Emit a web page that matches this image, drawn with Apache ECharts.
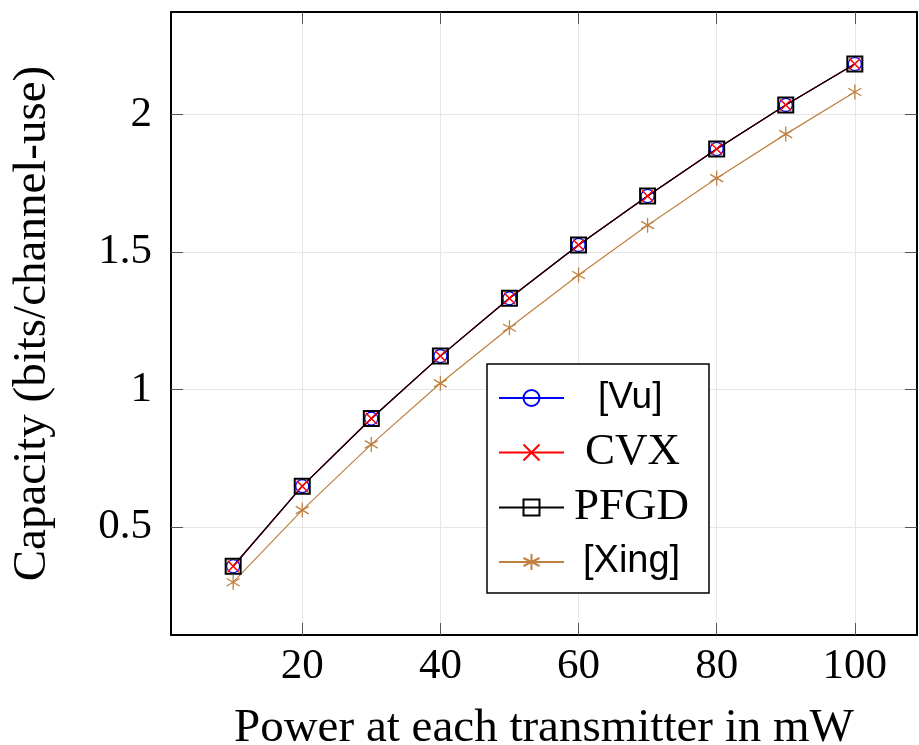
<!DOCTYPE html>
<html>
<head>
<meta charset="utf-8">
<script src="https://cdn.jsdelivr.net/npm/echarts@6/dist/echarts.min.js"></script>
<style>html,body{margin:0;padding:0;background:#fff}#c{width:919px;height:745px}</style>
</head>
<body>
<div id="c"></div>
<script>
const power = [10, 20, 30, 40, 50, 60, 70, 80, 90, 100];
const vu    = [0.357, 0.648, 0.894, 1.121, 1.331, 1.525, 1.703, 1.874, 2.034, 2.183];
const cvx   = [0.357, 0.648, 0.894, 1.121, 1.331, 1.525, 1.703, 1.874, 2.034, 2.183];
const pfgd  = [0.357, 0.648, 0.894, 1.121, 1.331, 1.525, 1.703, 1.874, 2.034, 2.183];
const xing  = [0.299, 0.561, 0.800, 1.022, 1.224, 1.416, 1.597, 1.768, 1.928, 2.081];
const xTicks = [20, 40, 60, 80, 100];
const yTicks = [0.5, 1, 1.5, 2];
const seriesNames = ['[Vu]', 'CVX', 'PFGD', '[Xing]'];

const pts = arr => power.map((p, i) => [p, arr[i]]);
const serif = 'Liberation Serif';
const sans = 'Liberation Sans';

const chart = echarts.init(document.getElementById('c'), null, {renderer: 'canvas'});
const tickStyle = {show: true, inside: true, length: 12, lineStyle: {color: '#555', width: 1}};
const axisLineStyle = {show: true, onZero: false, lineStyle: {color: '#000', width: 2}};

chart.setOption({
  animation: false,
  backgroundColor: '#fff',
  grid: {left: 171, top: 12, right: 2, bottom: 110, containLabel: false, outerBoundsMode: 'none'},
  xAxis: [{
    type: 'value', min: 1, max: 109, position: 'bottom',
    axisLine: axisLineStyle,
    axisTick: Object.assign({customValues: xTicks}, tickStyle),
    axisLabel: {customValues: xTicks, margin: 10, fontFamily: serif, fontSize: 43, color: '#000'},
    splitLine: {show: true, lineStyle: {color: '#e6e6e6', width: 1}},
    name: 'Power at each transmitter in mW', nameLocation: 'middle', nameGap: 70,
    nameTextStyle: {fontFamily: serif, fontSize: 47, color: '#000'}
  }, {
    type: 'value', min: 1, max: 109, position: 'top',
    axisLine: axisLineStyle,
    axisTick: Object.assign({customValues: xTicks}, tickStyle),
    axisLabel: {show: false},
    splitLine: {show: false}
  }],
  yAxis: [{
    type: 'value', min: 0.107, max: 2.372, position: 'left',
    axisLine: axisLineStyle,
    axisTick: Object.assign({customValues: yTicks}, tickStyle),
    axisLabel: {customValues: yTicks, margin: 19, fontFamily: serif, fontSize: 43, color: '#000'},
    splitLine: {show: true, lineStyle: {color: '#e6e6e6', width: 1}},
    name: 'Capacity (bits/channel-use)', nameLocation: 'middle', nameGap: 115, nameRotate: 90,
    nameTextStyle: {fontFamily: serif, fontSize: 47, color: '#000'}
  }, {
    type: 'value', min: 0.107, max: 2.372, position: 'right',
    axisLine: axisLineStyle,
    axisTick: Object.assign({customValues: yTicks}, tickStyle),
    axisLabel: {show: false},
    splitLine: {show: false}
  }],
  graphic: [{
    type: 'rect', z: 3,
    shape: {x: 487, y: 364, width: 222, height: 229},
    style: {fill: '#fff', stroke: '#000', lineWidth: 1.5}
  }],
  legend: {
    orient: 'vertical', left: 498, top: 376, padding: 0, itemGap: 10,
    itemWidth: 65, itemHeight: 20, selectedMode: false, z: 5,
    textStyle: {color: '#000', lineHeight: 44},
    data: [
      {name: seriesNames[0], textStyle: {fontFamily: sans, fontSize: 37, padding: [0, 0, 0, 29]}},
      {name: seriesNames[1], textStyle: {fontFamily: serif, fontSize: 45, padding: [0, 0, 0, 16]}},
      {name: seriesNames[2], textStyle: {fontFamily: serif, fontSize: 45, padding: [0, 0, 0, 5]}},
      {name: seriesNames[3], textStyle: {fontFamily: sans, fontSize: 38, padding: [0, 0, 0, 14]}}
    ]
  },
  series: [{
    name: seriesNames[0], type: 'line', data: pts(vu),
    symbol: 'circle', symbolSize: 13,
    lineStyle: {color: '#0000ff', width: 1.2},
    itemStyle: {color: 'rgba(0,0,0,0)', borderColor: '#0000ff', borderWidth: 1.2}
  }, {
    name: seriesNames[1], type: 'line', data: pts(cvx),
    symbol: 'path://M0,0L10,10M0,10L10,0', symbolSize: 11, symbolKeepAspect: true,
    lineStyle: {color: '#ff0000', width: 1.2},
    itemStyle: {color: 'rgba(0,0,0,0)', borderColor: '#ff0000', borderWidth: 1.5}
  }, {
    name: seriesNames[2], type: 'line', data: pts(pfgd),
    symbol: 'path://M0,0L10,0L10,10L0,10Z', symbolSize: 15, symbolKeepAspect: true,
    lineStyle: {color: '#000000', width: 1.2},
    itemStyle: {color: 'rgba(0,0,0,0)', borderColor: '#000000', borderWidth: 2}
  }, {
    name: seriesNames[3], type: 'line', data: pts(xing),
    symbol: 'path://M5,0L5,10M0.67,2.5L9.33,7.5M0.67,7.5L9.33,2.5', symbolSize: 15, symbolKeepAspect: true,
    lineStyle: {color: '#bf8040', width: 1.2},
    itemStyle: {color: 'rgba(0,0,0,0)', borderColor: '#bf8040', borderWidth: 1.3}
  }]
});
</script>
</body>
</html>
